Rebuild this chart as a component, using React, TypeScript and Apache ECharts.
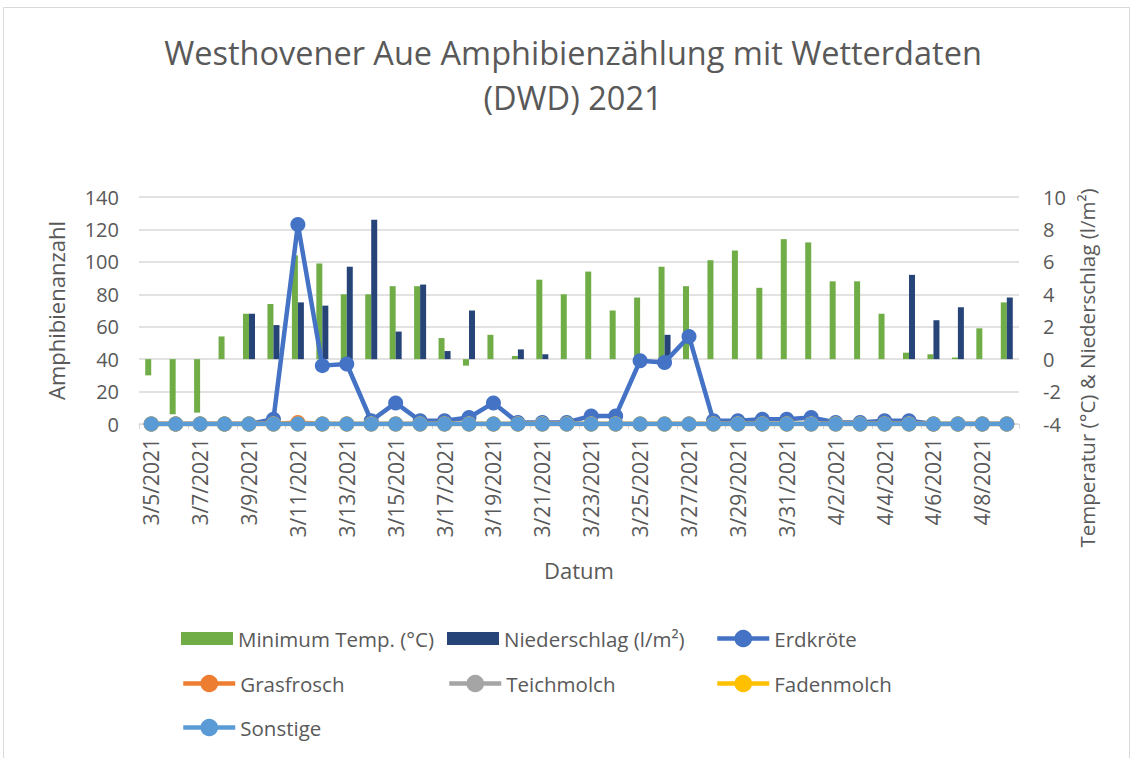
import React, { useEffect, useRef } from "react";
import * as echarts from "echarts";

const dates = [
  "3/5/2021", "3/6/2021", "3/7/2021", "3/8/2021", "3/9/2021", "3/10/2021", "3/11/2021",
  "3/12/2021", "3/13/2021", "3/14/2021", "3/15/2021", "3/16/2021", "3/17/2021", "3/18/2021",
  "3/19/2021", "3/20/2021", "3/21/2021", "3/22/2021", "3/23/2021", "3/24/2021", "3/25/2021",
  "3/26/2021", "3/27/2021", "3/28/2021", "3/29/2021", "3/30/2021", "3/31/2021", "4/1/2021",
  "4/2/2021", "4/3/2021", "4/4/2021", "4/5/2021", "4/6/2021", "4/7/2021", "4/8/2021", "4/9/2021",
];

const minTemp = [
  -1.0, -3.4, -3.3, 1.4, 2.8, 3.4, 6.4, 5.9, 4.0, 4.0, 4.5, 4.5, 1.3, -0.4, 1.5, 0.2, 4.9, 4.0,
  5.4, 3.0, 3.8, 5.7, 4.5, 6.1, 6.7, 4.4, 7.4, 7.2, 4.8, 4.8, 2.8, 0.4, 0.3, 0.1, 1.9, 3.5,
];

const niederschlag = [
  0, 0, 0, 0, 2.8, 2.1, 3.5, 3.3, 5.7, 8.6, 1.7, 4.6, 0.5, 3.0, 0, 0.6, 0.3, 0,
  0, 0, 0, 1.5, 0, 0, 0, 0, 0, 0, 0, 0, 0, 5.2, 2.4, 3.2, 0, 3.8,
];

const erdkroete = [
  0, 0, 0, 0, 0, 3, 123, 36, 37, 2, 13, 2, 2, 4, 13, 1, 1, 1,
  5, 5, 39, 38, 54, 2, 2, 3, 3, 4, 1, 1, 2, 2, 0, 0, 0, 0,
];

const grasfrosch = [
  0, 0, 0, 0, 0, 0, 1, 0, 0, 0, 0, 0, 0, 0, 0, 0, 0, 0,
  0, 0, 0, 0, 0, 0, 0, 0, 0, 0, 0, 0, 0, 0, 0, 0, 0, 0,
];

const teichmolch = [
  0, 0, 0, 0, 0, 0, 0, 0, 0, 0, 0, 0, 0, 0, 0, 0, 0, 0,
  0, 0, 0, 0, 0, 0, 0, 0, 0, 0, 0, 0, 0, 0, 0, 0, 0, 0,
];

const fadenmolch = [
  0, 0, 0, 0, 0, 0, 0, 0, 0, 0, 0, 0, 0, 0, 0, 0, 0, 0,
  0, 0, 0, 0, 0, 0, 0, 0, 0, 0, 0, 0, 0, 0, 0, 0, 0, 0,
];

const sonstige = [
  0, 0, 0, 0, 0, 0, 0, 0, 0, 0, 0, 0, 0, 0, 0, 0, 0, 0,
  0, 0, 0, 0, 0, 0, 0, 0, 0, 0, 0, 0, 0, 0, 0, 0, 0, 0,
];

const leftTicks = { min: 0, max: 140, interval: 20 };
const rightTicks = { min: -4, max: 10, interval: 2 };

const FONT = "'Open Sans', sans-serif";
const TXT = "#595959";
const GRID = "#D9D9D9";

const lineSeries = [
  { name: "Erdkröte", data: erdkroete, color: "#4472C4" },
  { name: "Grasfrosch", data: grasfrosch, color: "#ED7D31" },
  { name: "Teichmolch", data: teichmolch, color: "#A5A5A5" },
  { name: "Fadenmolch", data: fadenmolch, color: "#FFC000" },
  { name: "Sonstige", data: sonstige, color: "#5B9BD5" },
];

const legendPos = [
  { name: "Minimum Temp. (°C)", left: 181, row: 0, bar: true },
  { name: "Niederschlag (l/m²)", left: 447, row: 0, bar: true },
  { name: "Erdkröte", left: 715, row: 0, bar: false },
  { name: "Grasfrosch", left: 181, row: 1, bar: false },
  { name: "Teichmolch", left: 447, row: 1, bar: false },
  { name: "Fadenmolch", left: 715, row: 1, bar: false },
  { name: "Sonstige", left: 181, row: 2, bar: false },
];
const legendRowCenters = [640, 685, 729];

export default function App() {
  const ref = useRef<HTMLDivElement>(null);

  useEffect(() => {
    if (!ref.current) return;
    const chart = echarts.init(ref.current, undefined, { renderer: "svg" });

    const option: any = {
      animation: false,
      backgroundColor: "#ffffff",
      textStyle: { fontFamily: FONT },
      graphic: [
        {
          type: "rect",
          shape: { x: 3.5, y: 7.5, width: 1126, height: 780 },
          style: { fill: "none", stroke: GRID, lineWidth: 1 },
          silent: true,
        },
        {
          type: "text",
          x: 573,
          y: 52,
          style: {
            text: "Westhovener Aue Amphibienzählung mit Wetterdaten",
            fontFamily: FONT,
            fontSize: 32.5,
            fill: TXT,
            align: "center",
            verticalAlign: "middle",
          },
        },
        {
          type: "text",
          x: 573,
          y: 97,
          style: {
            text: "(DWD) 2021",
            fontFamily: FONT,
            fontSize: 32.5,
            fill: TXT,
            align: "center",
            verticalAlign: "middle",
          },
        },
        {
          type: "text",
          x: 1087,
          y: 368,
          rotation: Math.PI / 2,
          style: {
            text: "Temperatur (°C) & Niederschlag (l/m²)",
            fontFamily: FONT,
            fontSize: 20.5,
            fill: TXT,
            align: "center",
            verticalAlign: "middle",
          },
        },
      ],
      legend: legendPos.map((l) => ({
        data: [l.name],
        left: l.left,
        top: legendRowCenters[l.row] - 12,
        padding: 0,
        itemGap: 0,
        itemWidth: 52,
        itemHeight: l.bar ? 13 : 22,
        icon: l.bar ? "rect" : undefined,
        selectedMode: false,
        lineStyle: { width: 4.5 },
        textStyle: { fontFamily: FONT, fontSize: 20.5, color: TXT },
      })),
      grid: { left: 139, right: 115, top: 197, bottom: 334, containLabel: false },
      xAxis: {
        type: "category",
        data: dates,
        boundaryGap: true,
        name: "Datum",
        nameLocation: "middle",
        nameGap: 135,
        nameTextStyle: { fontFamily: FONT, fontSize: 22, color: TXT },
        axisLine: { show: true, lineStyle: { color: GRID, width: 1 } },
        axisTick: { show: true, interval: 1, length: 5, lineStyle: { color: GRID } },
        axisLabel: {
          interval: 1,
          rotate: 90,
          fontFamily: FONT,
          fontSize: 21,
          color: TXT,
          margin: 14,
        },
        splitLine: { show: false },
      },
      yAxis: [
        {
          type: "value",
          min: leftTicks.min,
          max: leftTicks.max,
          interval: leftTicks.interval,
          name: "Amphibienanzahl",
          nameLocation: "middle",
          nameGap: 72,
          nameRotate: 90,
          nameTextStyle: { fontFamily: FONT, fontSize: 22, color: TXT },
          axisLine: { show: false },
          axisTick: { show: false },
          axisLabel: { fontFamily: FONT, fontSize: 20, color: TXT, margin: 20 },
          splitLine: { show: true, lineStyle: { color: GRID, width: 1.5 } },
        },
        {
          type: "value",
          position: "right",
          min: rightTicks.min,
          max: rightTicks.max,
          interval: rightTicks.interval,
          axisLine: { show: false },
          axisTick: { show: false },
          axisLabel: { fontFamily: FONT, fontSize: 20, color: TXT, margin: 24 },
          splitLine: { show: false },
        },
      ],
      series: [
        {
          name: "Minimum Temp. (°C)",
          type: "bar",
          yAxisIndex: 1,
          data: minTemp,
          barWidth: 6,
          barGap: "0%",
          itemStyle: { color: "#70AD47" },
          emphasis: { disabled: true },
          z: 1,
        },
        {
          name: "Niederschlag (l/m²)",
          type: "bar",
          yAxisIndex: 1,
          data: niederschlag,
          barWidth: 6,
          barGap: "0%",
          itemStyle: { color: "#264478" },
          emphasis: { disabled: true },
          z: 1,
        },
        ...lineSeries.map((s, i) => ({
          name: s.name,
          type: "line",
          yAxisIndex: 0,
          data: s.data,
          symbol: "circle",
          symbolSize: 15,
          showSymbol: true,
          lineStyle: { color: s.color, width: 4.5 },
          itemStyle: { color: s.color },
          emphasis: { disabled: true },
          z: 3 + i,
        })),
      ],
    };

    chart.setOption(option);
    return () => chart.dispose();
  }, []);

  return (
    <div
      ref={ref}
      style={{ position: "fixed", left: 0, top: 0, width: 1134, height: 758, background: "#fff" }}
    />
  );
}
